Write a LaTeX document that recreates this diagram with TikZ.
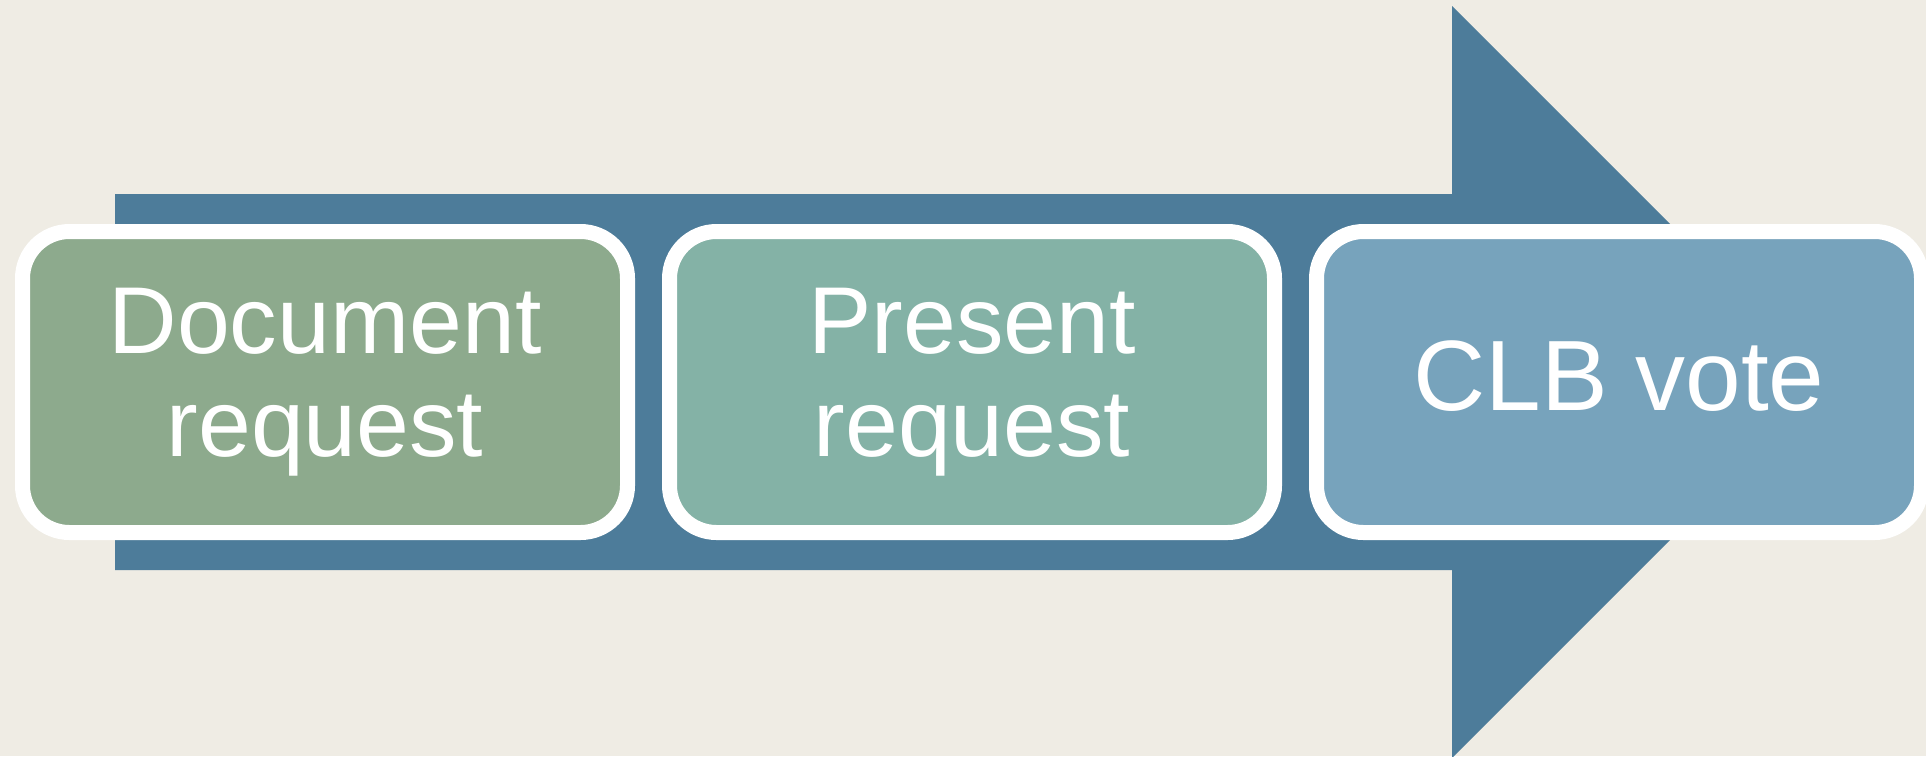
\documentclass[tikz,border=0pt]{standalone}
\usepackage{fontspec}
\setmainfont{Liberation Sans}
\definecolor{bg}{RGB}{239,236,228}
\definecolor{arrowblue}{RGB}{77,124,154}
\definecolor{boxA}{RGB}{141,170,141}
\definecolor{boxB}{RGB}{132,178,166}
\definecolor{boxC}{RGB}{119,163,188}
\begin{document}
\begin{tikzpicture}[x=0.5pt,y=-0.5pt,
  stagebox/.style={rectangle, rounded corners=23.5pt, draw=white, line width=7.5pt,
    minimum width=302.5pt, minimum height=150.5pt, inner sep=0pt, text=white,
    align=center, font=\fontsize{47.5pt}{51.5pt}\selectfont}]
\useasboundingbox (0,0) rectangle (1926,756);
\clip (0,0) rectangle (1926,756);
\fill[bg] (0,0) rectangle (1926,756);
\fill[arrowblue] (115,194) -- (1452,194) -- (1452,6) -- (1828,382) -- (1452,758) -- (1452,570) -- (115,570) -- cycle;
\node[stagebox, fill=boxA, text depth=9.5pt] (doc) at (325,382) {Document\\request};
\node[stagebox, fill=boxB, text depth=9.5pt] (pres) at (972,382) {Present\\request};
\node[stagebox, fill=boxC, text depth=6pt, font=\fontsize{50pt}{54pt}\selectfont] (vote) at (1619,382) {CLB vote};
\end{tikzpicture}
\end{document}
